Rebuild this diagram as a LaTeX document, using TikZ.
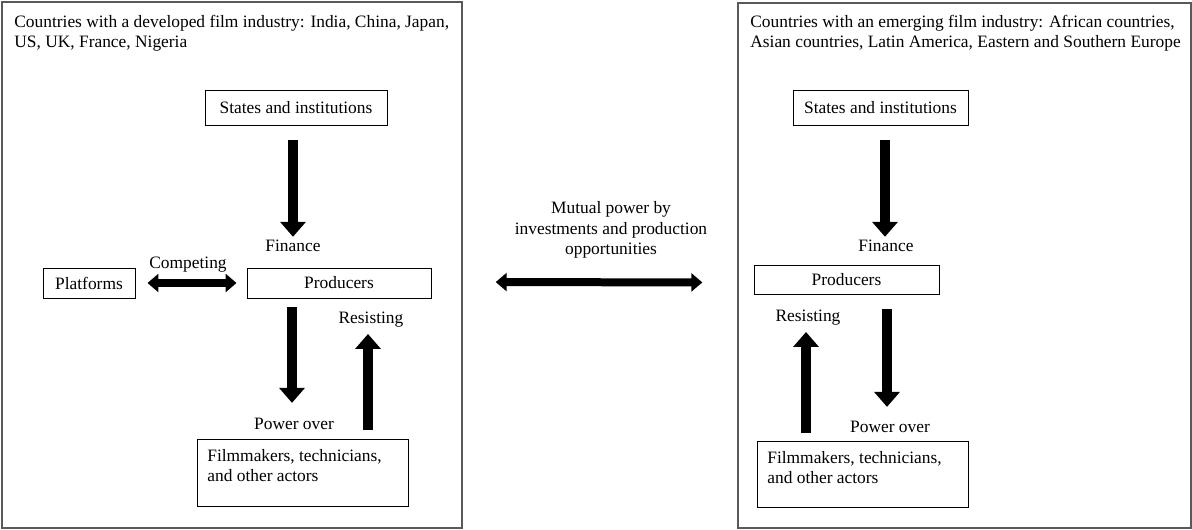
\documentclass[tikz,border=0pt]{standalone}
\usepackage{fontspec}
\setmainfont{Liberation Serif}
\usetikzlibrary{arrows.meta,positioning}
\begin{document}
\begin{tikzpicture}[x=0.02cm,y=-0.02cm,
  panel/.style={draw=black!65,line width=0.03cm,inner sep=0pt},
  box/.style={draw,line width=0.55pt,inner sep=0pt,font=\fontsize{9.9}{11.6}\selectfont},
  txt/.style={inner sep=0pt,font=\fontsize{9.9}{11.6}\selectfont},
  barr/.style={line width=0.2cm,-{Triangle[width=0.5cm,length=0.3cm]}},
  darr/.style={line width=0.16cm,{Triangle[width=0.36cm,length=0.22cm]}-{Triangle[width=0.36cm,length=0.22cm]}}]
\useasboundingbox (0,0) rectangle (1192,530);
\node[panel,minimum width=9.2cm,minimum height=10.52cm] (ldev) at (232,265) {};
\node[panel,minimum width=9.06cm,minimum height=10.5cm] (remg) at (964.5,265.5) {};
\node[txt,anchor=north west,align=left] (lhead) at (14,15) {Countries with a developed film industry: India, China, Japan,\\US, UK, France, Nigeria};
\node[txt,anchor=north west,align=left] (rhead) at (750,15) {Countries with an emerging film industry: African countries,\\Asian countries, Latin America, Eastern and Southern Europe};
\node[box,minimum width=3.64cm,minimum height=0.7cm] (ls) at (296,107.5) {States and institutions};
\node[txt] (lfin) at (293,246) {Finance};
\node[box,minimum width=3.68cm,minimum height=0.6cm] (lprod) at (339,283) {Producers};
\node[box,minimum width=1.84cm,minimum height=0.6cm] (lplat) at (89,283) {Platforms};
\node[txt] (lcomp) at (188,265) {Competing};
\node[txt] (lres) at (371,320) {Resisting};
\node[txt] (lpow) at (294,424) {Power over};
\node[box,minimum width=4.22cm,minimum height=1.34cm] (lfm) at (302.5,472.5) {};
\node[txt,anchor=north west,align=left] (lfmt) at (207,449) {Filmmakers, technicians,\\and other actors};
\node[txt,align=center] (mut) at (611,230) {Mutual power by\\investments and production\\opportunities};
\node[box,minimum width=3.5cm,minimum height=0.7cm] (rs) at (880.5,107.5) {States and institutions};
\node[txt] (rfin) at (886,246) {Finance};
\node[box,minimum width=3.7cm,minimum height=0.58cm] (rprod) at (846.5,279.5) {Producers};
\node[txt] (rres) at (808,318) {Resisting};
\node[txt] (rpow) at (890,427) {Power over};
\node[box,minimum width=4.22cm,minimum height=1.32cm] (rfm) at (862.5,474) {};
\node[txt,anchor=north west,align=left] (rfmt) at (767,451) {Filmmakers, technicians,\\and other actors};
\draw[barr,shorten <=0.3cm,shorten >=0.06cm] (lfin.north |- ls.south) -- (lfin.north);
\draw[barr,shorten <=0.18cm,shorten >=0.3cm] ([xshift=-0.04cm]lpow.north |- lprod.south) -- ([xshift=-0.04cm]lpow.north);
\draw[barr,shorten <=0.18cm,shorten >=0.12cm] ([xshift=-0.06cm]lres.south |- lfm.north) -- ([xshift=-0.06cm]lres.south);
\draw[darr,shorten <=0.24cm,shorten >=0.2cm] (lplat.east) -- (lprod.west);
\draw[darr,shorten <=0.66cm,shorten >=0.7cm] ([yshift=-0.34cm]ldev.east) -- ([yshift=-0.34cm]remg.west);
\draw[barr,shorten <=0.3cm,shorten >=0.06cm] ([xshift=-0.02cm]rfin.north |- rs.south) -- ([xshift=-0.02cm]rfin.north);
\draw[barr,shorten <=0.3cm,shorten >=0.28cm] ([xshift=-0.06cm]rpow.north |- rprod.south) -- ([xshift=-0.06cm]rpow.north);
\draw[barr,shorten <=0.16cm,shorten >=0.12cm] ([xshift=-0.04cm]rres.south |- rfm.north) -- ([xshift=-0.04cm]rres.south);
\end{tikzpicture}
\end{document}
